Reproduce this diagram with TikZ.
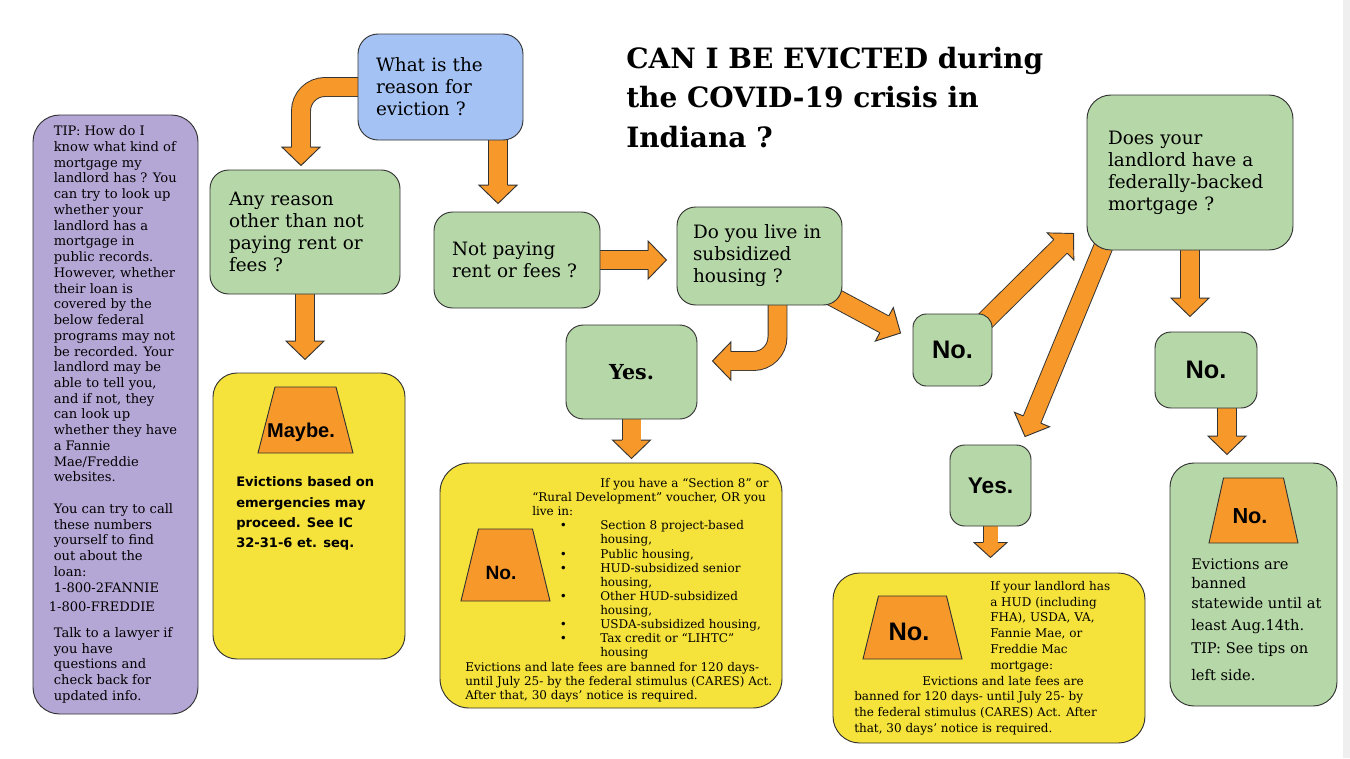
\documentclass[tikz,border=0pt]{standalone}
\usepackage{fontspec}
\setmainfont{DejaVu Serif}
\newfontfamily\arialfont{Liberation Sans}
\newfontfamily\verdanafont{DejaVu Sans}
\usetikzlibrary{calc,backgrounds}
\definecolor{qgreen}{HTML}{B6D7A8}
\definecolor{qblue}{HTML}{A4C2F4}
\definecolor{tippurple}{HTML}{B4A7D6}
\definecolor{ansyellow}{HTML}{F5E23B}
\definecolor{floworange}{HTML}{F7982B}
\definecolor{edgegray}{HTML}{333333}
\definecolor{stripgray}{HTML}{EFEFEF}

\newcommand\qsize{\fontsize{13.8pt}{16.5pt}\selectfont}
\newcommand\shafthalf{7.1pt}
\newcommand\shaftgap{13.5pt}
\newcommand\headhalf{14.25pt}
\newcommand\headlen{13.8pt}
% head of a block arrow: base centre, tip
\newcommand\blockhead[2]{%
  \fill[floworange] ($(#1)!\headhalf!90:(#2)$) -- (#2) -- ($(#1)!\headhalf!-90:(#2)$) -- cycle;
  \draw[arrowedge] ($(#1)!\shafthalf!90:(#2)$) -- ($(#1)!\headhalf!90:(#2)$) -- (#2)
    -- ($(#1)!\headhalf!-90:(#2)$) -- ($(#1)!\shafthalf!-90:(#2)$);}
% straight block arrow: start, tip
\newcommand\blockarrow[2]{%
  \coordinate (hb) at ($(#2)!\headlen!(#1)$);
  \draw[shaft] (#1) -- ($(#2)!\headlen-1.5pt!(#1)$);
  \blockhead{hb}{#2}}
% trapezoid badge: centre, bottom half width, top half width, half height
\newcommand\badge[4]{%
  \filldraw[badgeshape] ($(#1)+(-#2,#4)$) -- ($(#1)+(#2,#4)$) -- ($(#1)+(#3,-#4)$)
    -- ($(#1)+(-#3,-#4)$) -- cycle;}
\newcommand\bul{\hspace*{71pt}\makebox[30.25pt][l]{\textbullet}}
\newcommand\cont{\hspace*{101.25pt}}

\begin{document}
\begin{tikzpicture}[
  x=0.75pt, y=-0.75pt,
  qbox/.style={rounded corners=14pt, draw=edgegray, line width=0.7pt, fill=#1,
               align=left, inner ysep=0pt, font=\qsize},
  ansbox/.style={rounded corners=12pt, draw=edgegray, line width=0.7pt, fill=#1, inner sep=0pt},
  panel/.style={rounded corners=20pt, draw=edgegray, line width=0.7pt, fill=#1, inner sep=0pt},
  badgeshape/.style={draw=edgegray, line width=0.7pt, fill=floworange, line join=miter},
  badgetext/.style={inner sep=0pt, font=\arialfont\bfseries\fontsize{#1}{#1}\selectfont},
  shaft/.style={draw=edgegray, line width=0.7pt, double=floworange, double distance=\shaftgap},
  arrowedge/.style={draw=edgegray, line width=0.7pt, line join=miter},
  note/.style={anchor=north west, inner sep=0pt, align=left}
]
  \useasboundingbox (0,0) rectangle (1350,758);

  % title
  \node[note, font=\bfseries\fontsize{21pt}{29.6pt}\selectfont] (title) at (626,46.7)
    {CAN I BE EVICTED during\\the COVID-19 crisis in\\Indiana ?};

  % tips on the left
  \node[panel=tippurple, minimum width=123.75pt, minimum height=449.25pt,
        align=left, font=\fontsize{9.8pt}{11.8pt}\selectfont] (tips) at (115.5,414.5)
    {TIP: How do I\\know what kind of\\mortgage my\\landlord has ? You\\can try to look up\\
     whether your\\landlord has a\\mortgage in\\public records.\\However, whether\\
     their loan is\\covered by the\\below federal\\programs may not\\be recorded. Your\\
     landlord may be\\able to tell you,\\and if not, they\\can look up\\whether they have\\
     a Fannie\\Mae/Freddie\\websites.\\[11.8pt]
     You can try to call\\these numbers\\yourself to find\\out about the\\loan:\\
     1-800-2FANNIE\\[3pt]\hspace*{-3.75pt}1-800-FREDDIE\\[7.5pt]
     Talk to a lawyer if\\you have\\questions and\\check back for\\updated info.};

  % questions
  \node[qbox=qblue, rounded corners=15pt, text width=96.75pt, inner xsep=13.5pt,
        minimum height=79.5pt] (reason) at (440.5,87) {What is the\\reason for\\eviction ?};
  \node[qbox=qgreen, text width=114pt, inner xsep=14.25pt, minimum height=93pt]
    (anyreason) at (305,232) {Any reason\\other than not\\paying rent or\\fees ?};
  \node[qbox=qgreen, text width=97.5pt, inner xsep=13.5pt, minimum height=72pt]
    (notpaying) at (517,260) {Not paying\\rent or fees ?};
  \node[qbox=qgreen, text width=99.75pt, inner xsep=12pt, minimum height=73.5pt]
    (subs) at (759.5,256) {Do you live in\\subsidized\\housing ?};
  \node[qbox=qgreen, rounded corners=18pt, text width=123pt, inner xsep=15.75pt,
        minimum height=116.25pt] (landlord) at (1190,172.5)
    {Does your\\landlord have a\\federally-backed\\mortgage ?};

  % short answers
  \node[ansbox=qgreen, rounded corners=13pt, minimum width=98.25pt, minimum height=70.5pt,
        font=\bfseries\fontsize{15.5pt}{18pt}\selectfont] (yes1) at (631.5,372) {Yes.};
  \node[ansbox=qgreen, rounded corners=10pt, minimum width=59.25pt, minimum height=54pt,
        font=\arialfont\bfseries\fontsize{19pt}{22pt}\selectfont] (no1) at (952.5,350) {No.};
  \node[ansbox=qgreen, minimum width=76.5pt, minimum height=57pt,
        font=\arialfont\bfseries\fontsize{19pt}{22pt}\selectfont] (no2) at (1206,370) {No.};
  \node[ansbox=qgreen, rounded corners=11pt, minimum width=60.75pt, minimum height=60.75pt,
        font=\arialfont\bfseries\fontsize{17pt}{20pt}\selectfont] (yes2) at (990.5,485.5) {Yes.};

  % outcome panels
  \node[panel=ansyellow, rounded corners=18pt, minimum width=144pt, minimum height=214.5pt]
    (maybe) at (309,516) {};
  \node[panel=ansyellow, rounded corners=22pt, minimum width=256.5pt, minimum height=183.75pt]
    (yelmid) at (611,585.5) {};
  \node[panel=ansyellow, minimum width=234pt, minimum height=127.5pt]
    (yelright) at (989,658) {};
  \node[panel=qgreen, rounded corners=18pt, minimum width=125.25pt, minimum height=182.25pt]
    (final) at (1253.5,584.5) {};

  % badges
  \coordinate (maybebadge) at (305.5,420);
  \coordinate (midbadge) at (505.5,565);
  \coordinate (rightbadge) at (912.5,627.5);
  \coordinate (finalbadge) at (1253.5,510.5);
  \badge{maybebadge}{47.5}{30.5}{33}
  \badge{midbadge}{44.5}{27}{36}
  \badge{rightbadge}{49.5}{34}{31.5}
  \badge{finalbadge}{44.5}{30}{32.5}
  \node[badgetext=15pt] (maybelabel) at ($(maybebadge)+(-4.5,12)$) {Maybe.};
  \node[badgetext=14.4pt] (midlabel) at ($(midbadge)+(-4.5,8)$) {No.};
  \node[badgetext=19pt] (rightlabel) at ($(rightbadge)+(-3.5,4.5)$) {No.};
  \node[badgetext=16.3pt] (finallabel) at ($(finalbadge)+(-3.5,5.5)$) {No.};

  \node[note, font=\verdanafont\bfseries\fontsize{9.8pt}{15.2pt}\selectfont] (maybetext) at (236,476.6)
    {Evictions based on\\emergencies may\\proceed. See IC\\32-31-6 et. seq.};
  \node[note, font=\fontsize{9pt}{10.6pt}\selectfont] (midtext) at (465,478)
    {\hspace*{101.25pt}If you have a “Section 8” or\\
     \hspace*{50.25pt}“Rural Development” voucher, OR you\\
     \hspace*{50.25pt}live in:\\
     \bul Section 8 project-based\\
     \cont housing,\\
     \bul Public housing,\\
     \bul HUD-subsidized senior\\
     \cont housing,\\
     \bul Other HUD-subsidized\\
     \cont housing,\\
     \bul USDA-subsidized housing,\\
     \bul Tax credit or “LIHTC”\\
     \cont housing\\
     Evictions and late fees are banned for 120 days-\\
     until July 25- by the federal stimulus (CARES) Act.\\
     After that, 30 days’ notice is required.};
  \node[note, font=\fontsize{9pt}{11.85pt}\selectfont] (righttext) at (854,580.9)
    {\hspace*{102pt}If your landlord has\\
     \hspace*{102pt}a HUD (including\\
     \hspace*{102pt}FHA), USDA, VA,\\
     \hspace*{102pt}Fannie Mae, or\\
     \hspace*{102pt}Freddie Mac\\
     \hspace*{102pt}mortgage:\\
     \hspace*{51pt}Evictions and late fees are\\
     banned for 120 days- until July 25- by\\
     the federal stimulus (CARES) Act. After\\
     that, 30 days’ notice is required.};
  \node[note, font=\fontsize{11pt}{14.25pt}\selectfont] (finaltext) at (1191,558.6)
    {Evictions are\\banned\\[0.75pt]statewide until at\\[2.25pt]least Aug.14th.\\[3pt]
     TIP: See tips on\\[6pt]left side.};

  % arrow ends
  \coordinate (sA) at ($(reason.west)+(6,0)$);
  \coordinate (tA) at ($(anyreason.north)+(-4,-4)$);
  \coordinate (bA) at ($(tA)+(0,-18.4)$);
  \coordinate (eA) at ($(tA)+(0,-16)$);
  \coordinate (tB) at ($(notpaying.north)+(-19,-8)$);
  \coordinate (tC) at ($(anyreason.south)+(0,65)$);
  \coordinate (tD) at ($(notpaying.east)+(66,0)$);
  \coordinate (sE) at ($(subs.south)+(18,-4)$);
  \coordinate (tE) at ($(yes1.east)+(15,-11)$);
  \coordinate (bE) at ($(tE)+(18.4,0)$);
  \coordinate (eE) at ($(tE)+(16,0)$);
  \coordinate (sF) at ($(subs.south east)+(-12,-10)$);
  \coordinate (tF) at ($(no1.west)+(-12,-17)$);
  \coordinate (sG) at ($(no1.north east)+(-10,10)$);
  \coordinate (tG) at ($(landlord.south west)+(-13,-17)$);
  \coordinate (sH) at ($(landlord.south west)+(21,-14)$);
  \coordinate (tH) at ($(yes2.north)+(34.5,-8)$);
  \coordinate (tI) at ($(landlord.south)+(0,66)$);
  \coordinate (sJ) at ($(no2.south)+(21,0)$);
  \coordinate (tJ) at ($(no2.south)+(21,46)$);
  \coordinate (tK) at ($(yes1.south)+(0,39)$);
  \coordinate (tL) at ($(yes2.south)+(0,31)$);

  \begin{pgfonlayer}{background}
    \fill[white] (0,0) rectangle (1350,758);
    \fill[stripgray] (1343,0) rectangle (1350,758);
    \draw[shaft, rounded corners=18pt] (sA) -| (eA);
    \blockhead{bA}{tA}
    \blockarrow{tB |- reason.south}{tB}
    \blockarrow{anyreason.south}{tC}
    \blockarrow{notpaying.east}{tD}
    \draw[shaft, rounded corners=18pt] (sE) |- (eE);
    \blockhead{bE}{tE}
    \blockarrow{sF}{tF}
    \blockarrow{sG}{tG}
    \blockarrow{sH}{tH}
    \blockarrow{landlord.south}{tI}
    \blockarrow{sJ}{tJ}
    \blockarrow{yes1.south}{tK}
    \begin{scope}
      \renewcommand\shafthalf{5.6pt}\renewcommand\shaftgap{10.5pt}
      \renewcommand\headhalf{12.4pt}\renewcommand\headlen{11.25pt}
      \blockarrow{yes2.south}{tL}
    \end{scope}
  \end{pgfonlayer}
\end{tikzpicture}
\end{document}
